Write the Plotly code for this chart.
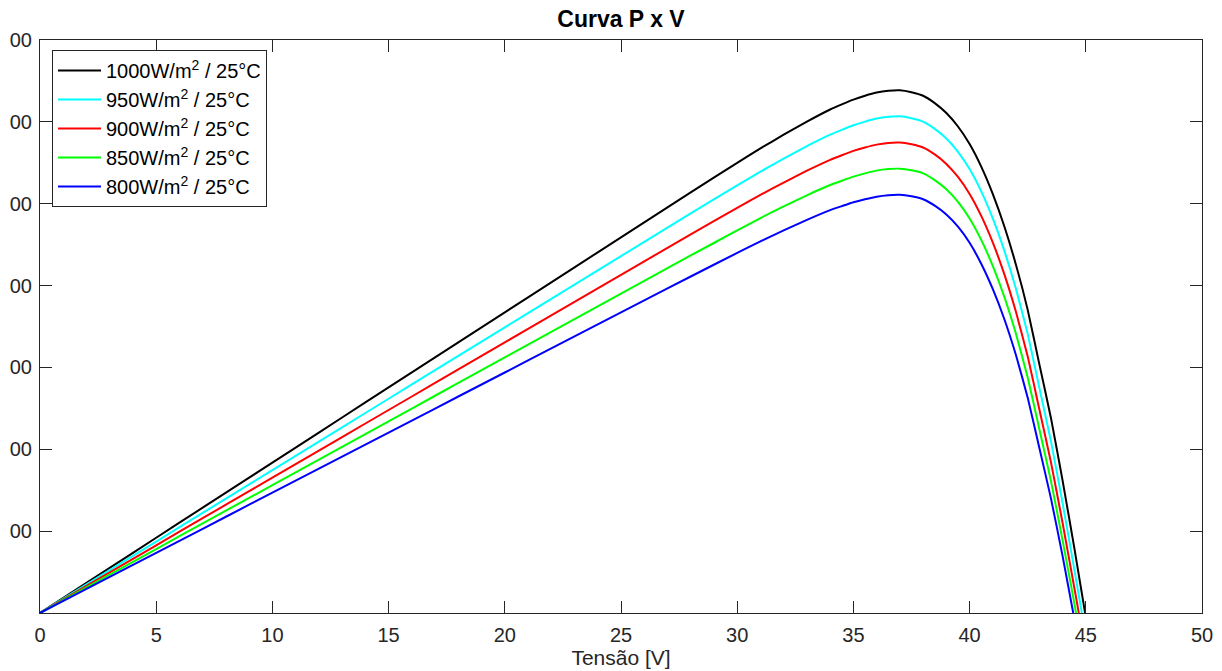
import plotly.graph_objects as go

# ---- data (Tensão [V] vs potência [W]) ----
v_grid = [0, 2, 4, 6, 8, 10, 12, 14, 16, 18, 20, 22, 24, 26, 28, 30,
          31, 32, 33, 34, 34.5, 35, 35.5, 36, 36.5, 37, 37.5, 38, 38.5,
          39, 39.5, 40, 40.5, 41, 41.5, 42, 42.5, 43, 43.5, 44]

p_1000 = [0, 36.8, 73.5, 110.3, 147.0, 183.7, 220.4, 257.2, 293.9, 330.6, 367.3,
          404.0, 440.6, 477.3, 513.9, 549.9, 567.6, 584.3, 600.3, 615.1, 621.3,
          627.2, 631.9, 635.8, 638.0, 638.6, 636.2, 631.9, 622.9, 610.8, 594.3,
          572.9, 545.4, 511.8, 471.9, 424.9, 370.3, 304.0, 238.3, 162.0]
tail_v_1000 = [44.5, 44.97]
tail_p_1000 = [80.5, 0]

p_950 = [0, 35.0, 69.8, 104.8, 139.7, 174.5, 209.4, 244.3, 279.2, 314.1, 348.9,
         383.8, 418.6, 453.4, 488.2, 522.4, 539.2, 555.1, 570.3, 584.3, 590.2,
         595.8, 600.3, 604.0, 606.1, 606.7, 604.4, 600.3, 591.5, 579.7, 563.4,
         542.3, 515.0, 481.7, 442.1, 395.4, 341.0, 275.3, 209.9, 134.4]
tail_v_950 = [44.5, 44.83]
tail_p_950 = [54.2, 0]

p_900 = [0, 33.1, 66.2, 99.3, 132.3, 165.3, 198.4, 231.5, 264.5, 297.5, 330.6,
         363.6, 396.5, 429.6, 462.5, 494.9, 510.8, 525.9, 540.3, 553.6, 559.2,
         564.5, 568.7, 572.2, 574.2, 574.7, 572.6, 568.7, 560.2, 548.6, 532.7,
         511.9, 485.1, 452.4, 413.4, 367.3, 313.5, 249.0, 184.3, 110.2]
tail_v_900 = [44.5, 44.70]
tail_p_900 = [31.8, 0]

p_850 = [0, 31.3, 62.5, 93.8, 125.0, 156.1, 187.3, 218.6, 249.8, 281.0, 312.2,
         343.4, 374.5, 405.7, 436.8, 467.4, 482.5, 496.7, 510.3, 522.8, 528.1,
         533.1, 537.1, 540.4, 542.3, 542.8, 540.8, 537.1, 528.9, 517.7, 502.3,
         482.0, 455.8, 423.8, 385.7, 340.5, 287.8, 224.8, 161.4, 89.1]
tail_v_850 = [44.5, 44.58]
tail_p_850 = [12.9, 0]

p_800 = [0, 29.4, 58.8, 88.2, 117.6, 147.0, 176.3, 205.8, 235.1, 264.5, 293.8,
         323.2, 352.5, 381.8, 411.1, 439.9, 454.1, 467.4, 480.2, 492.1, 497.0,
         501.8, 505.5, 508.6, 510.4, 510.9, 509.0, 505.5, 497.6, 486.8, 471.9,
         452.2, 426.7, 395.6, 358.5, 314.5, 263.1, 201.8, 140.0, 69.8]
tail_v_800 = [44.46]
tail_p_800 = [0]

series_names = ["1000W/m<sup>2</sup> / 25°C", "950W/m<sup>2</sup> / 25°C",
                "900W/m<sup>2</sup> / 25°C", "850W/m<sup>2</sup> / 25°C",
                "800W/m<sup>2</sup> / 25°C"]
series_colors = ["#000000", "#00FFFF", "#FF0000", "#00FF00", "#0000FF"]

x_ticks = [0, 5, 10, 15, 20, 25, 30, 35, 40, 45, 50]
y_tick_values = [100, 200, 300, 400, 500, 600, 700]
y_tick_labels = ["00", "00", "00", "00", "00", "00", "00"]

series = [
    (v_grid + tail_v_1000, p_1000 + tail_p_1000),
    (v_grid + tail_v_950, p_950 + tail_p_950),
    (v_grid + tail_v_900, p_900 + tail_p_900),
    (v_grid + tail_v_850, p_850 + tail_p_850),
    (v_grid + tail_v_800, p_800 + tail_p_800),
]

fig = go.Figure()
for (xs, ys), name, color in zip(series, series_names, series_colors):
    fig.add_trace(go.Scatter(x=xs, y=ys, mode="lines", name=name,
                             line=dict(color=color, width=2, shape="spline",
                                       smoothing=0.4)))

axis_color = "#262626"
# the page body adds an 8px offset; margins compensate for it
fig.update_layout(
    width=1222, height=671,
    paper_bgcolor="white", plot_bgcolor="white",
    margin=dict(l=32, r=28, t=32, b=66),
    font=dict(family="Liberation Sans, Arial, sans-serif", color=axis_color, size=20),
    title=dict(text="<b>Curva P x V</b>", x=0.5, xref="paper", xanchor="center",
               y=1 - 11 / 671, yref="container", yanchor="middle",
               font=dict(size=23, color="#000000")),
    showlegend=True,
    legend=dict(x=12 / 1162, y=1 - 10 / 573, xanchor="left", yanchor="top",
                bgcolor="white", bordercolor=axis_color, borderwidth=1,
                font=dict(size=20, color="#000000"), itemwidth=43,
                tracegroupgap=0),
    xaxis=dict(range=[0, 50], tickvals=x_ticks, showgrid=False, zeroline=False,
               showline=True, linecolor=axis_color, linewidth=1, mirror="ticks",
               ticks="inside", ticklen=12, tickcolor=axis_color,
               ticklabelstandoff=4,
               tickfont=dict(size=20, color=axis_color), automargin=False,
               title=dict(text="Tensão [V]", font=dict(size=21, color=axis_color),
                          standoff=0)),
    yaxis=dict(range=[0, 700], tickvals=y_tick_values, ticktext=y_tick_labels,
               showgrid=False, zeroline=False,
               showline=True, linecolor=axis_color, linewidth=1, mirror="ticks",
               ticks="inside", ticklen=12, tickcolor=axis_color,
               ticklabelstandoff=3,
               tickfont=dict(size=20, color=axis_color), automargin=False),
)

fig.write_html("out.html")
